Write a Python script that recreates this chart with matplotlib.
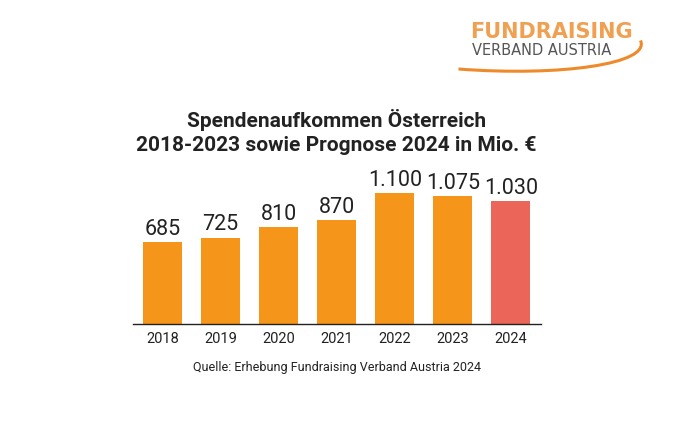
import matplotlib
matplotlib.use("Agg")
import matplotlib.pyplot as plt
from matplotlib.path import Path
from matplotlib.patches import PathPatch
from matplotlib import font_manager

years = ["2018", "2019", "2020", "2021", "2022", "2023", "2024"]
values = [685, 725, 810, 870, 1100, 1075, 1030]
labels = ["685", "725", "810", "870", "1.100", "1.075", "1.030"]
title = "Spendenaufkommen Österreich\n2018-2023 sowie Prognose 2024 in Mio. €"
source = "Quelle: Erhebung Fundraising Verband Austria 2024"

names = {f.name for f in font_manager.fontManager.ttflist}
cond = "Liberation Sans Narrow" if "Liberation Sans Narrow" in names else "Roboto"
fam = [cond, "DejaVu Sans"]

orange = "#F5961A"
red = "#EB6558"
colors = [orange] * 6 + [red]

fig = plt.figure(figsize=(7.0, 4.26), dpi=100)
ax = fig.add_axes([0.19, 0.2394, 0.583, 0.3357])
x = list(range(len(years)))
ax.bar(x, values, width=0.67, color=colors)
ax.set_xlim(-0.51, 6.52)
ax.set_ylim(0, 1200)
for s in ["top", "right", "left"]:
    ax.spines[s].set_visible(False)
ax.spines["bottom"].set_color("#222222")
ax.spines["bottom"].set_linewidth(1.0)
ax.set_yticks([])
ax.set_xticks(x)
ax.set_xticklabels(years, family=fam, fontsize=10.5, color="#222222")
ax.tick_params(axis="x", length=0, pad=6)
for xi, v, l in zip(x, values, labels):
    ax.text(xi, v + 18, l, ha="center", va="bottom", family=fam,
            fontsize=15.5, color="#222222", clip_on=False)

fig.text(0.481, 0.690, title, ha="center", va="center", family=fam,
         fontsize=15, fontweight="bold", color="#222222", linespacing=1.32)
fig.text(0.481, 0.138, source, ha="center", va="center", family=fam,
         fontsize=9, color="#222222")

# logo
fig.text(0.671, 0.925, "FUNDRAISING", ha="left", va="center", family=["DejaVu Sans"],
         fontsize=15, color="#F0A050", fontweight="semibold")
fig.text(0.674, 0.882, "VERBAND AUSTRIA", ha="left", va="center", family=["DejaVu Sans"],
         fontsize=10.5, color="#555555")
verts = [(0.655, 0.838), (0.80, 0.82), (0.93, 0.85), (0.915, 0.905)]
codes = [Path.MOVETO, Path.CURVE4, Path.CURVE4, Path.CURVE4]
fig.patches.append(PathPatch(Path(verts, codes), transform=fig.transFigure,
                             fill=False, edgecolor="#EE8A2A", linewidth=2.2))

fig.savefig("out.png", dpi=100, facecolor="white")
